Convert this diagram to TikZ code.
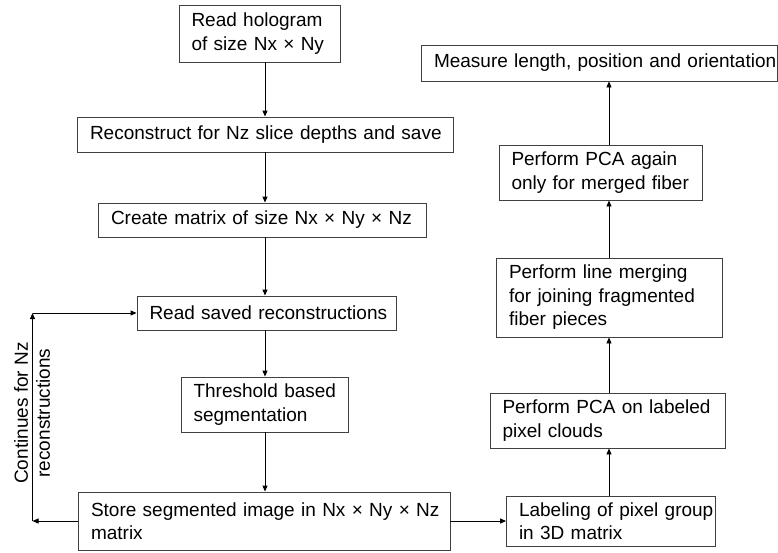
\documentclass[tikz,border=0pt]{standalone}
\usepackage{fontspec}
\setmainfont{Liberation Sans}
\usetikzlibrary{arrows.meta}
\newcommand{\oneline}[1]{\mbox{#1}}
\begin{document}
\begin{tikzpicture}[x=1pt,y=-1pt,
  box/.style={draw=black!75, line width=0.9pt, fill=white, inner xsep=12.5pt, inner ysep=0pt,
    align=left, anchor=center, font=\fontsize{19}{23.5}\selectfont},
  arr/.style={draw=black, line width=0.9pt, -{Triangle[length=6pt,width=5pt]}},
  lbl/.style={font=\fontsize{19}{22}\selectfont, align=center, rotate=90}]
\useasboundingbox (0,0) rectangle (778,552);
% left column
\node[box, minimum width=161pt, minimum height=57pt, text width=136pt] (hol) at (259.5,33.5)
  {\oneline{Read hologram}\\\oneline{of size Nx × Ny}};
\node[box, minimum width=376pt, minimum height=35pt, text width=351pt] (rec) at (265.5,134.5)
  {\oneline{Reconstruct for Nz slice depths and save}};
\node[box, minimum width=328pt, minimum height=34pt, text width=303pt] (cre) at (262.5,220)
  {\oneline{Create matrix of size Nx × Ny × Nz}};
\node[box, minimum width=259.5pt, minimum height=34pt, text width=234.5pt] (rsv) at (266.75,313)
  {\oneline{Read saved reconstructions}};
\node[box, minimum width=167.5pt, minimum height=55pt, text width=142.5pt] (thr) at (264.75,404.5)
  {\oneline{Threshold based}\\\oneline{segmentation}};
\node[box, minimum width=371.5pt, minimum height=58pt, text width=346.5pt] (sto) at (264.25,521)
  {\oneline{Store segmented image in Nx × Ny × Nz}\\\oneline{matrix}};
% right column
\node[box, minimum width=208.5pt, minimum height=50pt, text width=183.5pt] (lab) at (610.75,521)
  {\oneline{Labeling of pixel group}\\\oneline{in 3D matrix}};
\node[box, minimum width=235pt, minimum height=55pt, text width=210pt] (pcaA) at (607.5,420.5)
  {\oneline{Perform PCA on labeled}\\\oneline{pixel clouds}};
\node[box, minimum width=226pt, minimum height=79pt, text width=201pt] (mrg) at (609.5,297.5)
  {\oneline{Perform line merging}\\\oneline{for joining fragmented}\\\oneline{fiber pieces}};
\node[box, minimum width=203pt, minimum height=55pt, text width=178pt] (pcaB) at (600.5,172.5)
  {\oneline{Perform PCA again}\\\oneline{only for merged fiber}};
\node[box, minimum width=355.5pt, minimum height=36pt, text width=330.5pt] (mea) at (599.25,63)
  {\oneline{Measure length, position and orientation}};
% feedback label
\node[lbl] (loop) at (32,413) {Continues for Nz\\reconstructions};
% helper coordinates
\coordinate (cx) at (265,0);
\coordinate (rx) at (609,0);
\coordinate (fbB) at (32.5,521);
\coordinate (fbT) at (32.5,313);
% connectors left column
\draw[arr] (hol.south -| cx) -- (rec.north -| cx);
\draw[arr] (rec.south -| cx) -- (cre.north -| cx);
\draw[arr] (cre.south -| cx) -- (rsv.north -| cx);
\draw[arr] (rsv.south -| cx) -- (thr.north -| cx);
\draw[arr] (thr.south -| cx) -- (sto.north -| cx);
% across
\draw[arr] (sto.east) -- (lab.west);
% right column
\draw[arr] (lab.north -| rx) -- (pcaA.south -| rx);
\draw[arr] (pcaA.north -| rx) -- (mrg.south -| rx);
\draw[arr] (mrg.north -| rx) -- (pcaB.south -| rx);
\draw[arr] (pcaB.north -| rx) -- (mea.south -| rx);
% feedback loop
\draw[arr] (sto.west) -- (fbB);
\draw[arr] (fbB) -- (fbT);
\draw[arr] (fbT) -- (rsv.west);
\end{tikzpicture}
\end{document}
